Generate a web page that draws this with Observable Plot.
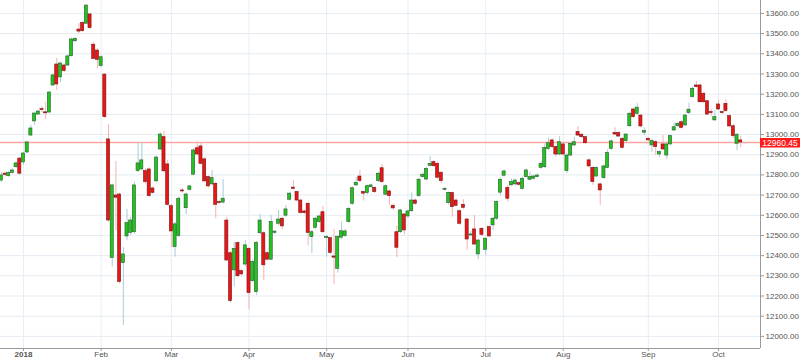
<!DOCTYPE html>
<html><head><meta charset="utf-8">
<script src="https://cdn.jsdelivr.net/npm/d3@7"></script>
<script src="https://cdn.jsdelivr.net/npm/@observablehq/plot@0.6"></script>
<style>
body{margin:0;background:#fff;}
svg{display:block;}
</style>
</head><body><div id="chart"></div>
<script>
// trading-day index of first candle (Dec 21, 2017 = -6; Jan 2, 2018 = 0)
const firstIndex = -6;
const open = [12772,12806,12794,12809,12838,12881,12862,12911,12995,13065,13099,13126,13110,13109,13243,13347,13283,13342,13342,13388,13462,13520,13552,13549,13595,13445,13416,13339,13297,12976,12388,12698,12703,12363,12495,12513,12516,12819,12827,12819,12827,12733,12768,12926,12987,12852,12645,12442,12497,12723,12635,12726,12801,12932,12941,12877,12789,12753,12756,12665,12663,12574,12412,12327,12462,12323,12356,12434,12274,12219,12511,12511,12412,12380,12513,12558,12583,12598,12677,12737,12715,12673,12619,12657,12492,12538,12566,12615,12487,12487,12396,12335,12489,12497,12566,12657,12748,12792,12715,12710,12739,12736,12769,12833,12702,12718,12647,12516,12516,12604,12594,12620,12673,12695,12789,12777,12845,12863,12855,12811,12726,12660,12710,12673,12620,12652,12579,12500,12530,12406,12533,12429,12541,12550,12583,12712,12796,12736,12748,12753,12759,12731,12789,12776,12781,12789,12835,12838,12929,12971,12938,12901,12951,12819,12896,12946,13012,12999,12987,12872,12835,12792,12753,12784,12835,12929,13007,13007,12979,12967,13041,13124,13103,13094,13009,12979,12946,12962,12901,12951,12896,12951,13020,13041,13061,13045,13106,13185,13243,13243,13202,13165,13111,13070,13149,13111,13152,13091,13041,12954,12971];
const high = [12812,12815,12818,12830,12865,12888,12912,12966,13045,13110,13120,13139,13160,13215,13300,13377,13360,13350,13395,13478,13480,13550,13560,13642,13600,13456,13425,13390,13300,13050,12755,12867,12710,12440,12629,12590,12764,12956,12961,12830,12835,12740,12895,13010,13017,12872,12655,12565,12690,12734,12710,12750,12930,12962,12960,12885,12795,12822,12765,12672,12777,12590,12420,12467,12470,12330,12475,12440,12380,12470,12603,12520,12420,12599,12525,12624,12590,12649,12715,12772,12720,12680,12625,12665,12525,12590,12600,12644,12500,12490,12530,12500,12566,12530,12640,12740,12786,12822,12720,12750,12755,12740,12812,12852,12750,12725,12655,12545,12630,12610,12625,12710,12680,12785,12810,12838,12891,12870,12862,12815,12738,12715,12715,12680,12628,12677,12585,12520,12599,12480,12540,12490,12548,12590,12672,12785,12825,12748,12781,12780,12765,12790,12830,12814,12800,12805,12868,12954,12984,12978,12945,12990,12958,12905,12960,12987,13040,13005,12992,12880,12840,12840,12760,12850,12924,12975,13033,13015,12985,13005,13111,13130,13152,13100,13033,12985,12975,12970,12920,12995,12958,12998,13056,13060,13068,13100,13155,13235,13263,13250,13210,13170,13125,13119,13169,13115,13172,13100,13050,13005,12990];
const low = [12763,12790,12788,12805,12832,12800,12847,12906,12990,13045,13094,13109,13075,13104,13238,13218,13258,13305,13337,13383,13455,13500,13505,13545,13520,13370,13326,13330,13080,12565,12343,12525,12260,12054,12475,12500,12505,12810,12820,12755,12688,12705,12760,12920,12810,12645,12439,12393,12490,12710,12604,12720,12795,12895,12850,12760,12735,12745,12583,12655,12655,12370,12165,12244,12290,12300,12345,12132,12265,12203,12505,12277,12375,12375,12505,12550,12530,12590,12670,12725,12668,12605,12605,12447,12412,12530,12560,12510,12393,12405,12257,12313,12480,12490,12560,12650,12742,12762,12670,12700,12735,12708,12762,12758,12695,12649,12625,12390,12510,12503,12585,12615,12650,12688,12785,12770,12840,12838,12780,12756,12720,12650,12591,12640,12550,12630,12426,12495,12450,12380,12495,12401,12488,12525,12575,12698,12790,12665,12745,12745,12745,12725,12785,12770,12775,12785,12828,12832,12920,12930,12888,12895,12895,12806,12890,12940,12990,12980,12950,12835,12748,12785,12649,12778,12830,12922,12995,12985,12928,12962,13035,13080,13096,13033,12995,12965,12913,12896,12885,12920,12875,12945,13015,13035,13028,13040,13100,13180,13230,13155,13155,13095,13090,13065,13118,13100,13110,13033,12979,12921,12935];
const close = [12797,12800,12809,12822,12857,12806,12906,12961,13030,13104,13114,13121,13105,13208,13293,13248,13352,13314,13387,13471,13474,13510,13512,13639,13527,13375,13370,13383,13086,12574,12748,12687,12269,12406,12561,12574,12748,12857,12872,12764,12695,12711,12886,13000,12818,12652,12520,12555,12682,12718,12703,12743,12921,12901,12855,12768,12743,12784,12652,12660,12682,12376,12175,12434,12298,12307,12451,12214,12368,12464,12574,12352,12380,12566,12519,12579,12545,12629,12707,12731,12673,12611,12611,12513,12516,12583,12594,12516,12492,12414,12390,12492,12521,12520,12632,12734,12761,12769,12707,12744,12748,12715,12806,12764,12744,12695,12634,12439,12624,12525,12619,12673,12657,12776,12801,12830,12855,12843,12786,12769,12731,12710,12640,12647,12558,12637,12480,12505,12455,12475,12503,12484,12495,12583,12665,12776,12817,12682,12764,12772,12751,12781,12822,12789,12792,12797,12855,12934,12957,12938,12901,12962,12901,12896,12954,12962,12995,12987,12957,12842,12764,12835,12723,12842,12908,12966,13000,12990,12934,13000,13103,13086,13133,13040,13017,12971,12967,12938,12913,12926,12951,12992,13036,13053,13033,13094,13123,13227,13235,13160,13160,13099,13106,13086,13124,13106,13116,13040,12992,12999,12960.45];
const redDoji = [-5, 5, 6, 43, 53, 73, 84, 186, 189, 194];
const greenDoji = [82, 114, 121];

const monthTickIndex = [0, 21, 40, 61, 82, 104, 125, 146, 169, 188];
const monthTickLabels = ["2018","Feb","Mar","Apr","May","Jun","Jul","Aug","Sep","Oct"];
const yTicks = d3.range(12000, 13601, 100);
const lastPrice = 12960.45;
const xDomain = [-6.22, 199.35];
const yDomain = [11940, 13664];

const candles = open.map((o, k) => {
  const i = firstIndex + k;
  let up = close[k] > open[k];
  if (redDoji.includes(i)) up = false;
  if (greenDoji.includes(i)) up = true;
  return {i, open: o, high: high[k], low: low[k], close: close[k], up};
});

const labelOf = new Map(monthTickIndex.map((d, k) => [d, monthTickLabels[k]]));
const fmt = d3.format(".2f");

const chart = Plot.plot({
  width: 800,
  height: 361,
  marginLeft: 0,
  marginRight: 40,
  marginTop: 0,
  marginBottom: 13,
  style: {fontFamily: "'Liberation Sans', Arial, sans-serif", fontSize: "8px", color: "#555", background: "#fff"},
  x: {domain: xDomain, axis: null, label: null},
  y: {domain: yDomain, axis: null, label: null},
  marks: [
    Plot.gridY({ticks: yTicks, stroke: "#e4ebf1", strokeOpacity: 1}),
    Plot.gridX({ticks: monthTickIndex, stroke: "#e8eef3", strokeOpacity: 1}),
    Plot.ruleY([lastPrice], {stroke: "#ffa3a3", strokeWidth: 1.5}),
    Plot.ruleX(candles, {x: "i", y1: "low", y2: "high", stroke: d => d.up ? "#a8cbd8" : "#f6b2b2", strokeWidth: 1}),
    Plot.rect(candles, {
      x1: d => d.i - 0.42, x2: d => d.i + 0.42,
      y1: "open", y2: "close",
      fill: d => d.up ? "#1fc41f" : "#ee1414",
      stroke: d => d.up ? "#2d5a2d" : "#6e1a1a",
      strokeWidth: 0.6
    }),
    Plot.ruleX([xDomain[1]], {stroke: "#9a9a9a", strokeWidth: 1}),
    Plot.ruleY([yDomain[0]], {stroke: "#9a9a9a", strokeWidth: 1}),
    Plot.axisY({anchor: "right", label: null, ticks: yTicks, tickFormat: fmt, tickSize: 3, tickPadding: 2, stroke: "#999", fill: "#555"}),
    Plot.axisX({label: null, ticks: monthTickIndex, tickFormat: d => labelOf.get(d), tickSize: 3, tickPadding: 0, stroke: "#999", fill: "#555"})
  ]
});

document.getElementById("chart").appendChild(chart);

// bold year label
d3.select(chart).selectAll("text").filter(function(){ return this.textContent === "2018"; })
  .attr("font-weight", "bold");

// last price badge in the right margin
const yPos = chart.scale("y").apply(lastPrice);
const g = d3.select(chart).append("g");
g.append("rect").attr("x", 760).attr("y", yPos - 4).attr("width", 40).attr("height", 9.5).attr("fill", "#ff1a1a");
g.append("text").attr("x", 780).attr("y", yPos + 0.8).attr("dy", "0.35em").attr("text-anchor", "middle")
  .attr("fill", "#fff").attr("font-size", "8.5px").text(fmt(lastPrice));
</script>
</body></html>
